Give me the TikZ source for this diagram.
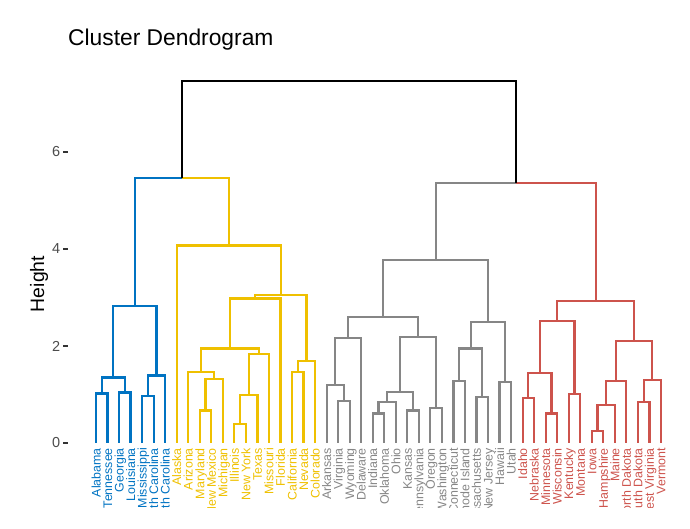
\documentclass[tikz,border=0pt]{standalone}
\usepackage{fontspec}
\setmainfont{Liberation Sans}
\usepackage{tikz}
\usetikzlibrary{positioning}
\usepackage{xcolor}
\definecolor{dblue}{HTML}{0073C2}
\definecolor{dyellow}{HTML}{EFC000}
\definecolor{dgray}{HTML}{868686}
\definecolor{dred}{HTML}{CD534C}
\tikzstyle{branch} = [line width=2.2pt]
\tikzstyle{leaflab} = [rotate=90, anchor=east, inner sep=0pt, text height=9pt, text depth=0pt, font=\fontsize{12.4}{14}\selectfont]
\tikzstyle{ticklab} = [anchor=east, inner sep=0pt, text=black!70, font=\fontsize{14.5}{16}\selectfont]
\tikzstyle{tickmark} = [line width=1.4pt, black!80]

\begin{document}
\begin{tikzpicture}

\useasboundingbox (0,0) rectangle (690pt,529pt);
\node (title) [anchor=base west, inner sep=0pt, font=\fontsize{22.8}{26}\selectfont] at (68pt,483pt) {Cluster Dendrogram};
\node (ylab) [rotate=90, anchor=base, inner sep=0pt, font=\fontsize{19.4}{22}\selectfont] at (44pt,245pt) {Height};

\begin{scope}[shift={(84.47pt,86pt)}, x=11.53pt, y=48.5pt]

\foreach \h in {0,2,4,6} {
  \draw [tickmark] (-1.84,\h) -- (-1.46,\h);
  \node (t\h) [ticklab] at (-2.08,\h) {\h};
}

\begin{scope}
\clip (-8,-1.34) rectangle (55,0.5);
\foreach \nm/\lab/\col [count=\i] in {AL/Alabama/dblue, TN/Tennessee/dblue, GA/Georgia/dblue,
  LA/Louisiana/dblue, MS/Mississippi/dblue, NC/North Carolina/dblue, SC/South Carolina/dblue,
  AK/Alaska/dyellow, AZ/Arizona/dyellow, MD/Maryland/dyellow, NM/New Mexico/dyellow,
  MI/Michigan/dyellow, IL/Illinois/dyellow, NY/New York/dyellow, TX/Texas/dyellow,
  MO/Missouri/dyellow, FL/Florida/dyellow, CA/California/dyellow, NV/Nevada/dyellow,
  CO/Colorado/dyellow, AR/Arkansas/dgray, VA/Virginia/dgray, WY/Wyoming/dgray,
  DE/Delaware/dgray, IN/Indiana/dgray, OK/Oklahoma/dgray, OH/Ohio/dgray, KS/Kansas/dgray,
  PA/Pennsylvania/dgray, OR/Oregon/dgray, WA/Washington/dgray, CT/Connecticut/dgray,
  RI/Rhode Island/dgray, MA/Massachusetts/dgray, NJ/New Jersey/dgray, HI/Hawaii/dgray,
  UT/Utah/dgray, ID/Idaho/dred, NE/Nebraska/dred, MN/Minnesota/dred, WI/Wisconsin/dred,
  KY/Kentucky/dred, MT/Montana/dred, IA/Iowa/dred, NH/New Hampshire/dred, ME/Maine/dred,
  ND/North Dakota/dred, SD/South Dakota/dred, WV/West Virginia/dred, VT/Vermont/dred} {
  \coordinate (\nm) at (\i,0);
  \node (l\nm) [leaflab, text=\col] at (\i,-0.103) {\lab};
}
\end{scope}

\coordinate (b1) at (1.5,1.02);
\coordinate (b2) at (3.5,1.04);
\coordinate (b3) at (2.5,1.35);
\coordinate (b4) at (5.5,0.97);
\coordinate (b5) at (6.25,1.39);
\coordinate (b6) at (4.375,2.82);

\coordinate (y1) at (10.5,0.67);
\coordinate (y2) at (11.25,1.32);
\coordinate (y3) at (10.125,1.47);
\coordinate (y4) at (13.5,0.39);
\coordinate (y5) at (14.25,0.99);
\coordinate (y6) at (15.125,1.83);
\coordinate (y7) at (12.625,1.95);
\coordinate (y8) at (14.8125,2.98);
\coordinate (y9) at (18.5,1.46);
\coordinate (y10) at (19.25,1.69);
\coordinate (y11) at (17.03,3.05);
\coordinate (y12) at (12.516,4.07);

\coordinate (g1) at (22.5,0.87);
\coordinate (g2) at (21.75,1.19);
\coordinate (g3) at (22.875,2.16);
\coordinate (g4) at (25.5,0.61);
\coordinate (g5) at (26.25,0.84);
\coordinate (g6) at (28.5,0.67);
\coordinate (g7) at (27.375,1.05);
\coordinate (g8) at (30.5,0.72);
\coordinate (g9) at (28.9375,2.18);
\coordinate (g10) at (25.906,2.59);
\coordinate (g11) at (32.5,1.28);
\coordinate (g12) at (34.5,0.95);
\coordinate (g13) at (33.5,1.95);
\coordinate (g14) at (36.5,1.26);
\coordinate (g15) at (35,2.49);
\coordinate (g16) at (30.453,3.77);

\coordinate (r1) at (38.5,0.92);
\coordinate (r2) at (40.5,0.61);
\coordinate (r3) at (39.5,1.44);
\coordinate (r4) at (42.5,1.01);
\coordinate (r5) at (41,2.52);
\coordinate (r6) at (44.5,0.25);
\coordinate (r7) at (45.25,0.78);
\coordinate (r8) at (46.125,1.28);
\coordinate (r9) at (48.5,0.85);
\coordinate (r10) at (49.25,1.30);
\coordinate (r11) at (47.6875,2.10);
\coordinate (r12) at (44.34,2.93);

\coordinate (lft) at (8.445,5.46);
\coordinate (rgt) at (37.4,5.36);
\coordinate (root) at (22.92,7.46);

\foreach \a/\b in {AL/b1, TN/b1, GA/b2, LA/b2, b1/b3, b2/b3, MS/b4, NC/b4, b4/b5, SC/b5,
  b3/b6, b5/b6, b6/lft}
  \draw [branch, dblue] (\a) |- (\b);
\foreach \a/\b in {MD/y1, NM/y1, y1/y2, MI/y2, AZ/y3, y2/y3, IL/y4, NY/y4, y4/y5, TX/y5,
  y5/y6, MO/y6, y3/y7, y6/y7, y7/y8, FL/y8, CA/y9, NV/y9, y9/y10, CO/y10, y8/y11, y10/y11,
  AK/y12, y11/y12, y12/lft}
  \draw [branch, dyellow] (\a) |- (\b);
\foreach \a/\b in {VA/g1, WY/g1, AR/g2, g1/g2, g2/g3, DE/g3, IN/g4, OK/g4, g4/g5, OH/g5,
  KS/g6, PA/g6, g5/g7, g6/g7, OR/g8, WA/g8, g7/g9, g8/g9, g3/g10, g9/g10, CT/g11, RI/g11,
  MA/g12, NJ/g12, g11/g13, g12/g13, HI/g14, UT/g14, g13/g15, g14/g15, g10/g16, g15/g16,
  g16/rgt}
  \draw [branch, dgray] (\a) |- (\b);
\foreach \a/\b in {ID/r1, NE/r1, MN/r2, WI/r2, r1/r3, r2/r3, KY/r4, MT/r4, r3/r5, r4/r5,
  IA/r6, NH/r6, r6/r7, ME/r7, r7/r8, ND/r8, SD/r9, WV/r9, r9/r10, VT/r10, r8/r11, r10/r11,
  r5/r12, r11/r12, r12/rgt}
  \draw [branch, dred] (\a) |- (\b);
\draw [branch, black] (lft) |- (root);
\draw [branch, black] (rgt) |- (root);

\end{scope}

\end{tikzpicture}
\end{document}
